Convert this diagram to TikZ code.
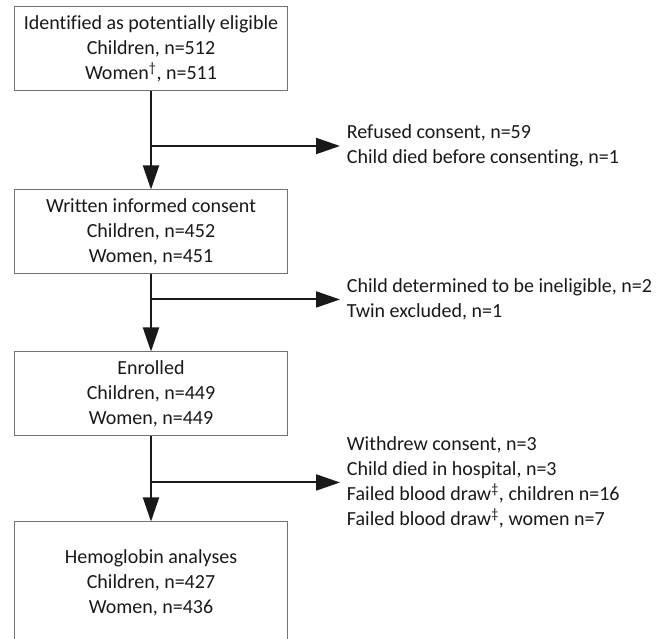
\documentclass[tikz,border=0pt]{standalone}
\usepackage{fontspec}
\setmainfont{Carlito}[Ligatures={NoCommon}]
\usetikzlibrary{positioning,arrows.meta}

\tikzset{
  box/.style={draw=black!55, line width=0.75pt, minimum width=204pt, minimum height=63pt, align=center, inner sep=0pt},
  side/.style={align=left, inner sep=5pt},
  flow/.style={black!90, line width=1.5pt, -{Triangle[width=12pt,length=18pt]}},
}

\begin{document}
\begin{tikzpicture}[font=\fontsize{15}{18.75}\selectfont, text=black!90]
\useasboundingbox (-113.25pt,36.375pt) rectangle (390.75pt,-442.875pt);
\clip (-113.25pt,36.375pt) rectangle (390.75pt,-442.875pt);
\node [box] (ident) at (0,0) {Identified as potentially eligible\\Children, n=512\\Women\textsuperscript{\textdagger}, n=511};
\node [box, below of=ident, node distance=137.6pt] (consent) {Written informed consent\\Children, n=452\\Women, n=451};
\node [box, below of=consent, node distance=121.5pt] (enrol) {Enrolled\\Children, n=449\\Women, n=449};
\node [box, below of=enrol, node distance=141.75pt, minimum height=91.5pt] (hb) {Hemoglobin analyses\\Children, n=427\\Women, n=436};
\coordinate [below=41.25pt of ident.south] (s1);
\coordinate [below=18.75pt of consent.south] (s2);
\coordinate [below=34.5pt of enrol.south] (s3);
\node [side, right=141.75pt of s1] (out1) {Refused consent, n=59\\Child died before consenting, n=1};
\node [side, right=141.75pt of s2] (out2) {Child determined to be ineligible, n=2\\Twin excluded, n=1};
\node [side, right=141.75pt of s3] (out3) {Withdrew consent, n=3\\Child died in hospital, n=3\\Failed blood draw\textsuperscript{\textdaggerdbl}, children n=16\\Failed blood draw\textsuperscript{\textdaggerdbl}, women n=7};
\draw [flow] (ident) -- (consent);
\draw [flow] (consent) -- (enrol);
\draw [flow] (enrol) -- (hb);
\draw [flow] (s1) -- (out1);
\draw [flow] (s2) -- (out2);
\draw [flow] (s3) -- (out3);
\end{tikzpicture}
\end{document}
